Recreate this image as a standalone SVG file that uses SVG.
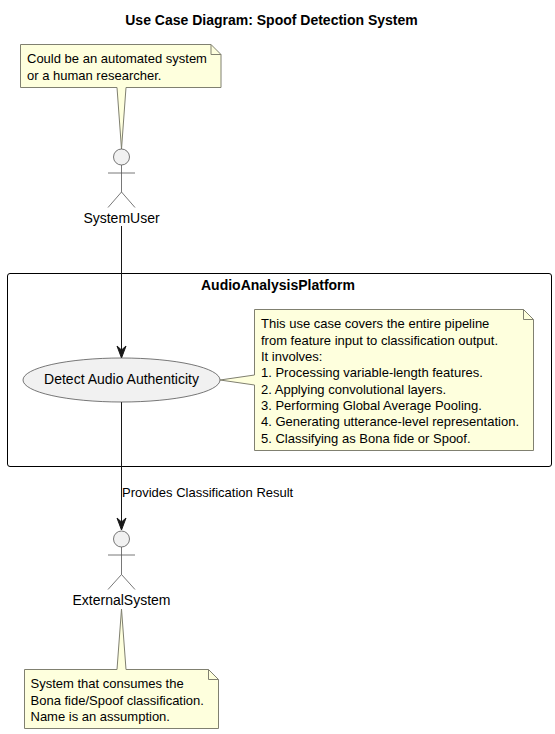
<svg xmlns="http://www.w3.org/2000/svg" width="555" height="734" viewBox="0 0 555 734">
<style>
text{font-family:"Liberation Sans",Arial,sans-serif;fill:#000}
.t14{font-size:14px}
.n{font-size:13px}
.b{font-size:14px;font-weight:bold}
.m{text-anchor:middle}
.note{fill:#FEFFDD;stroke:#808070;stroke-width:1}
.fold{fill:none;stroke:#808070;stroke-width:1}
.act{fill:none;stroke:#555;stroke-width:.8}
.head{fill:#F1F1F1;stroke:#555;stroke-width:.8}
.conn{fill:none;stroke:#181818;stroke-width:1}
.ah{fill:#181818;stroke:#181818;stroke-width:1}
</style>
<rect width="555" height="734" fill="#fff"/>
<text class="b m" x="271.5" y="25">Use Case Diagram: Spoof Detection System</text>
<g id="AudioAnalysisPlatform">
<rect x="7.5" y="273.5" width="544" height="193" rx="2.5" ry="2.5" fill="none" stroke="#000" stroke-width="1"/>
<text class="b m" x="278" y="290">AudioAnalysisPlatform</text>
</g>
<g id="connectors">
<path class="conn" d="M121.5 226V352"/>
<path class="ah" d="M121.5 358L117 346L121.5 350L126 346Z"/>
<path class="conn" d="M121.5 402V524"/>
<path class="ah" d="M121.5 530L117 518L121.5 522L126 518Z"/>
<text class="n" x="122" y="497">Provides Classification Result</text>
</g>
<g id="note1">
<path class="note" d="M20.5 44.5H211L221 54.5V87.5H126L121.5 149L117 87.5H20.5Z"/>
<path class="fold" d="M211 44.5V54.5H221"/>
<text class="n" x="27" y="63">Could be an automated system</text>
<text class="n" x="27" y="79.5">or a human researcher.</text>
</g>
<g id="SystemUser">
<circle class="head" cx="121.5" cy="157" r="8"/>
<path class="act" d="M121.5 165V192M108 173H135M108 207.5L121.5 192L135 207.5"/>
<text class="t14 m" x="121.5" y="223">SystemUser</text>
</g>
<g id="DetectAudioAuthenticity">
<ellipse cx="121.5" cy="380" rx="98.5" ry="22" fill="#F1F1F1" stroke="#555" stroke-width=".8"/>
<text class="t14 m" x="121.5" y="384">Detect Audio Authenticity</text>
</g>
<g id="note2">
<path class="note" d="M254.5 309.5H523.5L533.5 319.5V450.5H254.5V385L220 380L254.5 375Z"/>
<path class="fold" d="M523.5 309.5V319.5H533.5"/>
<text class="n" x="261" y="328">This use case covers the entire pipeline</text>
<text class="n" x="261" y="344.5">from feature input to classification output.</text>
<text class="n" x="261" y="361">It involves:</text>
<text class="n" x="261" y="377">1. Processing variable-length features.</text>
<text class="n" x="261" y="393.5">2. Applying convolutional layers.</text>
<text class="n" x="261" y="410">3. Performing Global Average Pooling.</text>
<text class="n" x="261" y="426">4. Generating utterance-level representation.</text>
<text class="n" x="261" y="442.5">5. Classifying as Bona fide or Spoof.</text>
</g>
<g id="ExternalSystem">
<circle class="head" cx="121.5" cy="539" r="8"/>
<path class="act" d="M121.5 547V574.5M108 555H135M108 589.5L121.5 574.5L135 589.5"/>
<text class="t14 m" x="121.5" y="605">ExternalSystem</text>
</g>
<g id="note3">
<path class="note" d="M24.5 669.5H117L121.5 609L126 669.5H208.5L218.5 679.5V728.5H24.5Z"/>
<path class="fold" d="M208.5 669.5V679.5H218.5"/>
<text class="n" x="30.5" y="688">System that consumes the</text>
<text class="n" x="30.5" y="704.5">Bona fide/Spoof classification.</text>
<text class="n" x="30.5" y="721">Name is an assumption.</text>
</g>
</svg>
